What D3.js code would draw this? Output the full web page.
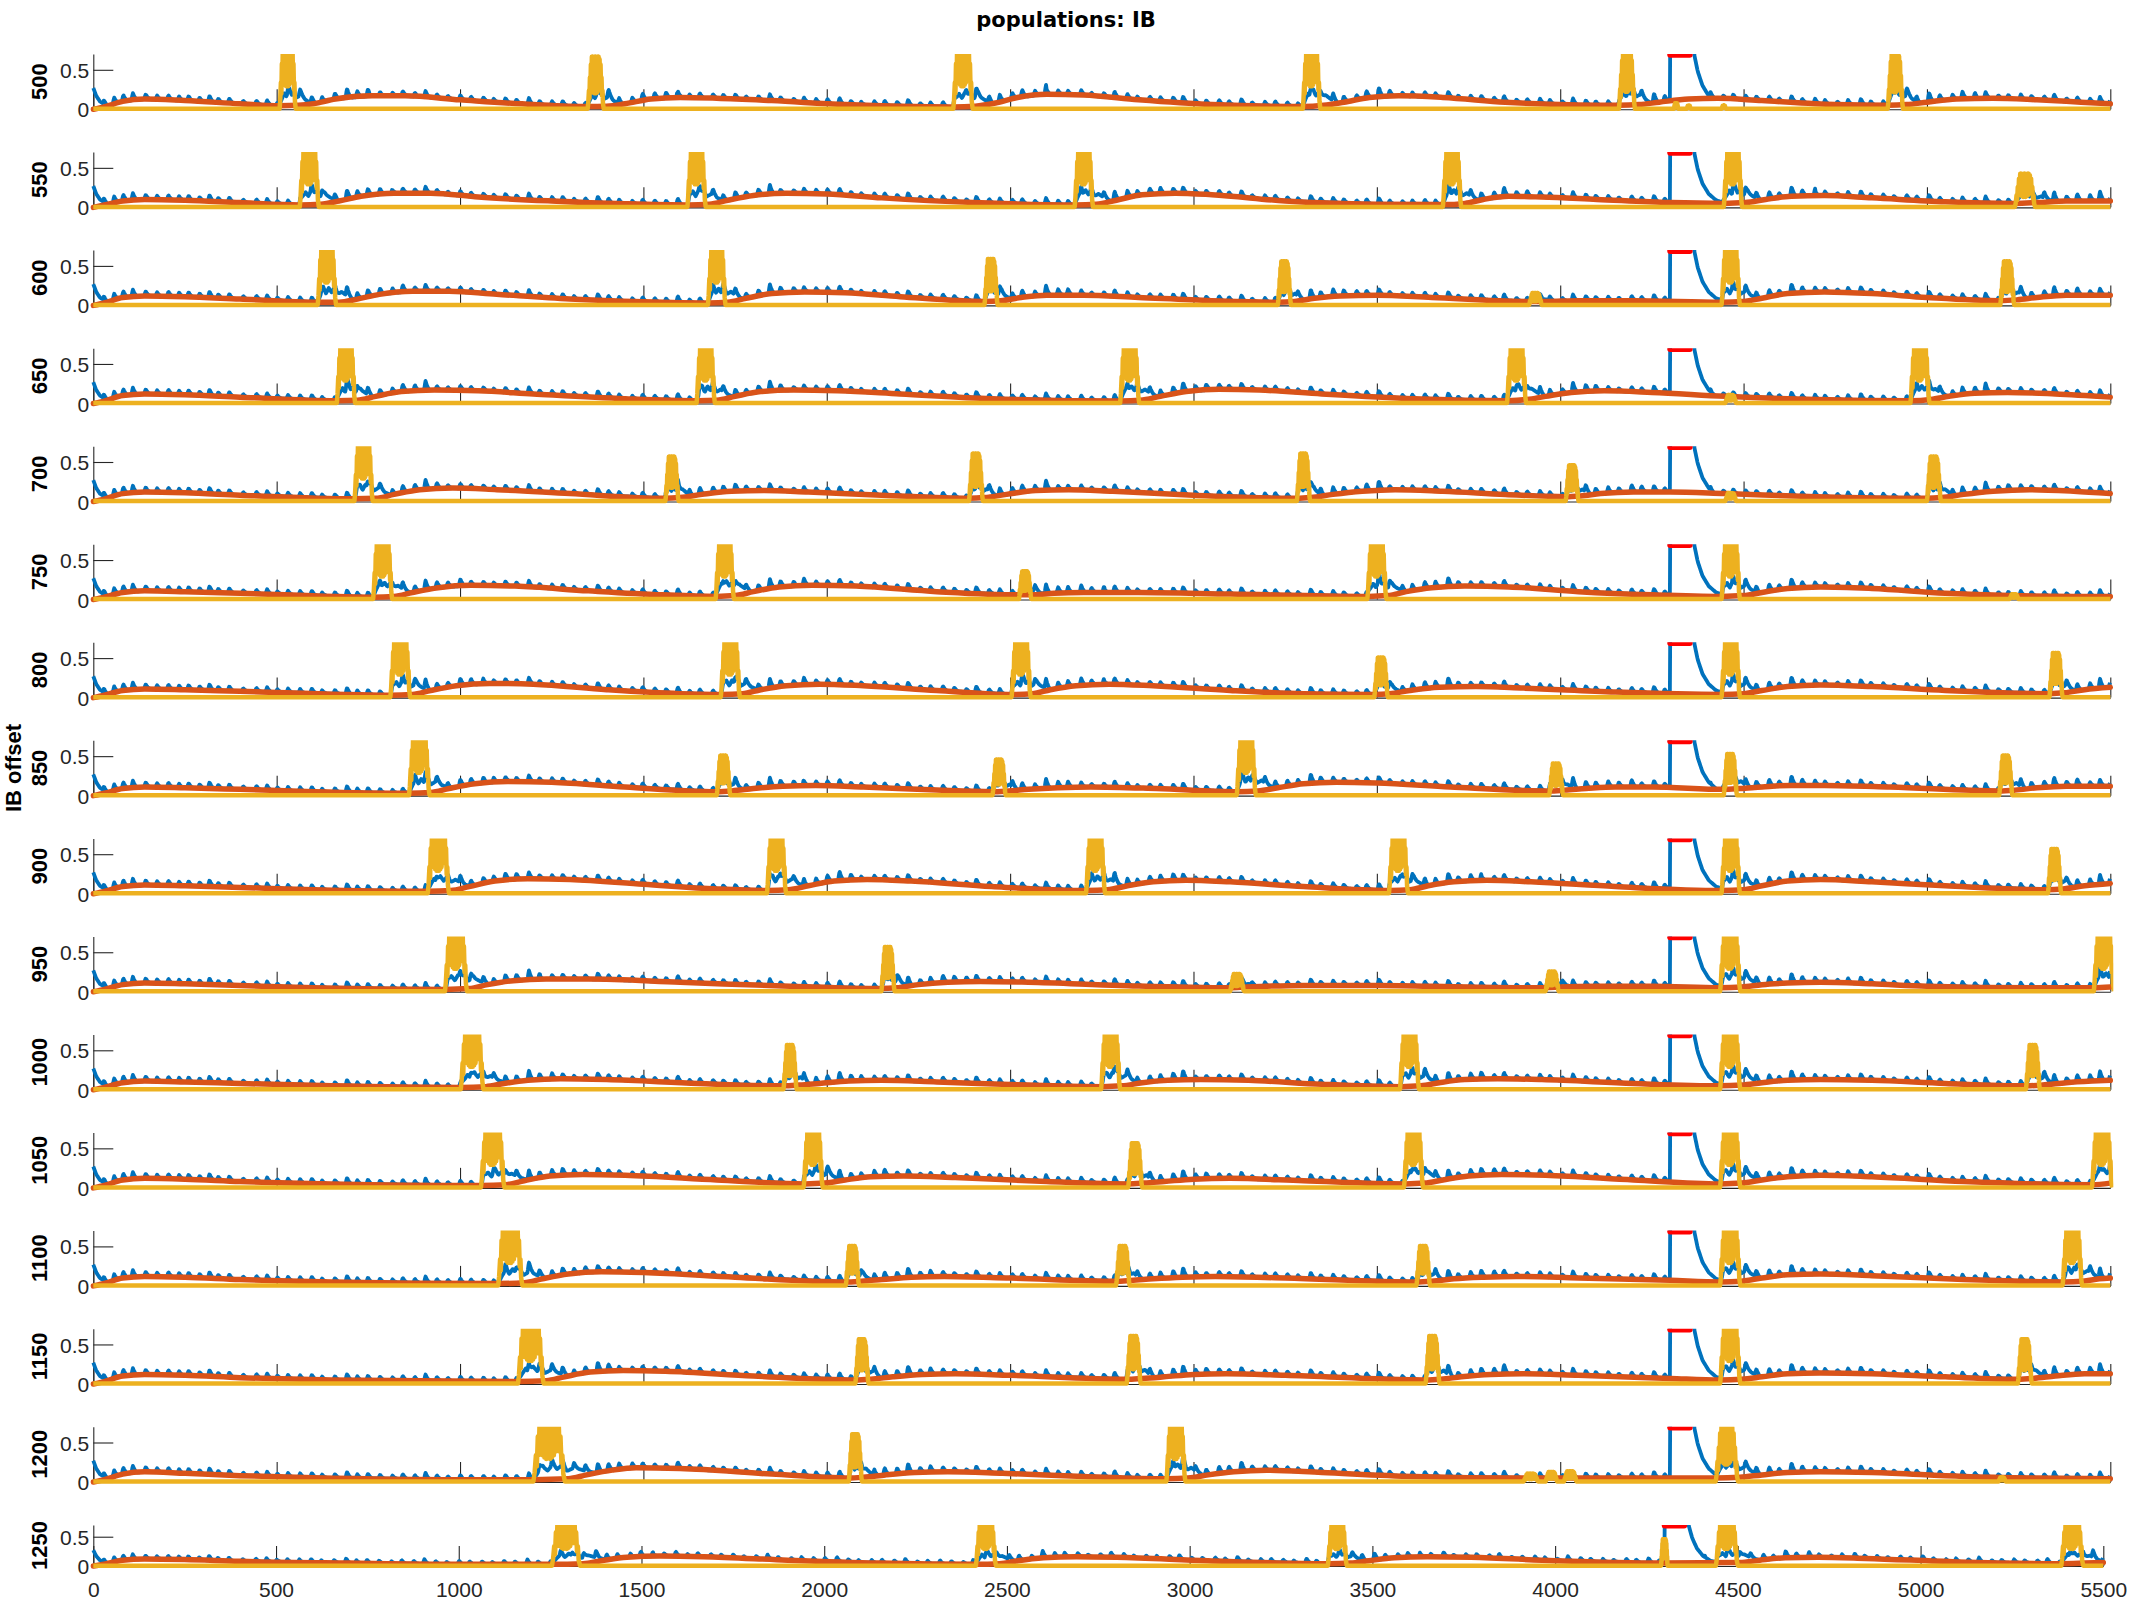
<!DOCTYPE html>
<html><head><meta charset="utf-8">
<script src="https://cdn.jsdelivr.net/npm/d3@7"></script>
<style>body{margin:0;background:#fff}svg{display:block}</style>
</head><body>
<svg id="chart" width="2133" height="1600"></svg>
<script>
// ---------------- DATA ----------------
const titleText = "populations: IB";
const yLabelText = "IB offset";
const offsets = [500,550,600,650,700,750,800,850,900,950,1000,1050,1100,1150,1200,1250];
const timeTicks = [0,500,1000,1500,2000,2500,3000,3500,4000,4500,5000,5500];
const yTickValues = [0, 0.5];
const yTickLabels = ["0", "0.5"];
const yMax = 0.7;
const tMax = 5500;

// yellow bursts per panel: [start, end, peak]
const yellowBursts = [
 [[508,552,.95],[1348,1392,.66],[2345,2398,.95],[3298,3346,.95],[4160,4204,.72],[4310,4322,.07],[4345,4356,.04],[4440,4452,.04],[4893,4935,.7]],
 [[563,615,.95],[1620,1670,.95],[2676,2726,.95],[3680,3730,.95],[4446,4496,.95],[5240,5295,.42]],
 [[612,662,.95],[1676,1724,.95],[2430,2466,.58],[3230,3266,.55],[3915,3950,.15],[4440,4490,.95],[5200,5238,.55]],
 [[664,714,.95],[1645,1695,.95],[2800,2852,.95],[3855,3907,.95],[4450,4480,.1],[4955,5007,.95]],
 [[712,762,.95],[1560,1596,.56],[2388,2426,.6],[3282,3318,.6],[4015,4050,.45],[4450,4480,.1],[5000,5038,.56]],
 [[763,815,.95],[1697,1747,.95],[2524,2558,.35],[3474,3526,.95],[4440,4490,.95],[5225,5250,.06]],
 [[810,864,.95],[1711,1763,.95],[2504,2556,.95],[3493,3530,.5],[4440,4490,.95],[5334,5370,.56]],
 [[861,917,.95],[1700,1737,.5],[2452,2488,.45],[3118,3170,.95],[3970,4008,.4],[4446,4482,.52],[5197,5233,.5]],
 [[912,970,.95],[1837,1889,.95],[2707,2759,.95],[3533,3585,.95],[4440,4490,.95],[5330,5366,.56]],
 [[959,1019,.95],[2149,2185,.56],[3100,3138,.22],[3960,3996,.25],[4436,4491,.95],[5455,5510,.95]],
 [[1002,1064,.95],[1882,1918,.56],[2748,2800,.95],[3563,3615,.95],[4436,4491,.95],[5270,5308,.56]],
 [[1057,1121,.95],[1937,1989,.95],[2822,2860,.56],[3574,3626,.95],[4436,4491,.95],[5450,5505,.95]],
 [[1104,1170,.95],[2052,2088,.5],[2789,2826,.5],[3608,3645,.5],[4436,4491,.95],[5370,5423,.95]],
 [[1158,1228,.95],[2078,2114,.56],[2818,2856,.6],[3633,3671,.6],[4436,4491,.95],[5248,5286,.56]],
 [[1200,1286,.95],[2060,2096,.6],[2926,2978,.95],[3900,3940,.1],[3960,3992,.12],[4010,4045,.13],[4424,4485,.72],[5195,5215,.05]],
 [[1255,1332,.95],[2415,2470,.95],[3378,3430,.95],[4290,4308,.45],[4440,4500,.95],[5385,5445,.95]]
];

// orange (slow population) key points per panel: [time, value]
const orangePts = [
 [[0,0],[30,.03],[80,.1],[140,.13],[250,.11],[400,.07],[508,.045],[560,.05],[600,.07],[660,.13],[760,.17],[850,.17],[1000,.12],[1200,.06],[1348,.035],[1400,.04],[1450,.07],[1520,.13],[1600,.15],[1700,.14],[1850,.11],[2050,.06],[2345,.03],[2405,.04],[2460,.08],[2520,.15],[2600,.19],[2700,.18],[2850,.12],[3050,.06],[3298,.035],[3355,.05],[3410,.09],[3480,.15],[3560,.17],[3680,.15],[3850,.09],[4050,.055],[4160,.05],[4215,.06],[4270,.09],[4350,.13],[4430,.14],[4550,.11],[4750,.06],[4893,.05],[4945,.06],[5000,.09],[5080,.13],[5180,.14],[5300,.12],[5420,.09],[5500,.07]],
 [[0,0],[30,.03],[80,.08],[140,.1],[250,.09],[400,.06],[563,.03],[620,.04],[670,.08],[730,.14],[820,.18],[920,.18],[1050,.13],[1250,.08],[1450,.045],[1622,.03],[1680,.04],[1730,.09],[1800,.15],[1890,.18],[2000,.17],[2150,.12],[2400,.06],[2678,.03],[2735,.04],[2790,.09],[2860,.16],[2950,.18],[3050,.16],[3250,.08],[3500,.04],[3682,.035],[3740,.05],[3790,.1],[3860,.14],[3950,.13],[4100,.1],[4300,.06],[4446,.05],[4505,.06],[4560,.1],[4630,.14],[4720,.15],[4850,.12],[5050,.07],[5240,.05],[5300,.06],[5380,.08],[5500,.08]],
 [[0,0],[30,.03],[80,.1],[140,.12],[250,.11],[400,.08],[612,.04],[670,.04],[720,.08],[780,.14],[870,.18],[970,.18],[1100,.14],[1300,.08],[1500,.045],[1678,.03],[1730,.04],[1780,.09],[1850,.15],[1940,.17],[2050,.16],[2200,.11],[2430,.05],[2475,.06],[2530,.1],[2600,.13],[2700,.13],[2850,.1],[3050,.06],[3230,.04],[3275,.05],[3330,.09],[3400,.12],[3500,.13],[3650,.1],[3915,.05],[3960,.05],[4050,.06],[4200,.06],[4440,.04],[4500,.05],[4550,.09],[4620,.15],[4720,.17],[4850,.15],[5000,.1],[5200,.06],[5245,.07],[5300,.1],[5380,.13],[5500,.13]],
 [[0,0],[30,.03],[80,.1],[140,.12],[250,.11],[400,.08],[664,.035],[720,.04],[770,.09],[840,.15],[930,.17],[1050,.16],[1200,.12],[1450,.06],[1648,.035],[1700,.04],[1750,.09],[1820,.15],[1910,.17],[2030,.16],[2200,.12],[2450,.06],[2803,.03],[2855,.04],[2910,.09],[2980,.15],[3070,.18],[3180,.17],[3350,.12],[3600,.06],[3858,.035],[3910,.05],[3960,.09],[4030,.14],[4120,.16],[4250,.14],[4450,.09],[4700,.05],[4958,.035],[5010,.05],[5060,.09],[5130,.13],[5220,.14],[5350,.12],[5500,.08]],
 [[0,0],[30,.03],[80,.1],[140,.12],[250,.11],[400,.08],[712,.035],[770,.04],[820,.09],[890,.15],[980,.17],[1100,.15],[1300,.1],[1560,.04],[1600,.05],[1660,.09],[1740,.13],[1830,.14],[1950,.12],[2150,.08],[2388,.04],[2430,.05],[2490,.09],[2570,.14],[2660,.15],[2780,.13],[3000,.08],[3282,.04],[3320,.05],[3380,.09],[3460,.13],[3550,.15],[3680,.13],[3850,.09],[4015,.06],[4055,.07],[4110,.1],[4200,.12],[4300,.12],[4450,.1],[4700,.06],[5000,.04],[5040,.05],[5100,.09],[5180,.13],[5280,.15],[5400,.13],[5500,.1]],
 [[0,0],[30,.03],[80,.09],[140,.11],[250,.1],[400,.08],[763,.03],[820,.04],[870,.09],[940,.15],[1030,.18],[1150,.17],[1350,.11],[1550,.06],[1700,.04],[1750,.05],[1800,.1],[1870,.16],[1960,.18],[2080,.17],[2300,.1],[2524,.06],[2565,.06],[2620,.08],[2700,.09],[2850,.09],[3100,.07],[3477,.04],[3530,.05],[3580,.1],[3650,.15],[3740,.17],[3860,.16],[4050,.1],[4250,.06],[4440,.04],[4500,.05],[4550,.09],[4620,.14],[4710,.16],[4850,.14],[5050,.08],[5225,.05],[5400,.04],[5500,.04]],
 [[0,0],[30,.03],[80,.09],[140,.11],[250,.1],[400,.08],[810,.03],[870,.04],[920,.09],[990,.15],[1080,.18],[1200,.17],[1400,.1],[1600,.05],[1714,.04],[1770,.05],[1820,.1],[1890,.15],[1980,.17],[2100,.15],[2300,.09],[2507,.04],[2560,.05],[2610,.1],[2680,.15],[2770,.17],[2890,.15],[3100,.09],[3300,.05],[3493,.04],[3535,.05],[3590,.09],[3670,.13],[3770,.14],[3900,.12],[4150,.07],[4440,.04],[4500,.05],[4550,.09],[4620,.14],[4710,.16],[4850,.14],[5050,.09],[5334,.05],[5375,.06],[5430,.1],[5500,.13]],
 [[0,0],[30,.03],[80,.09],[140,.11],[250,.1],[400,.08],[600,.05],[861,.03],[920,.04],[970,.09],[1040,.15],[1130,.18],[1250,.17],[1450,.11],[1700,.05],[1742,.06],[1800,.09],[1880,.12],[1970,.13],[2100,.11],[2300,.07],[2452,.05],[2495,.06],[2550,.08],[2630,.1],[2720,.11],[2900,.09],[3121,.05],[3175,.06],[3230,.1],[3300,.15],[3390,.17],[3500,.16],[3700,.11],[3970,.06],[4012,.07],[4070,.09],[4150,.11],[4250,.11],[4446,.08],[4490,.09],[4550,.11],[4630,.13],[4720,.13],[4900,.11],[5197,.06],[5240,.07],[5300,.1],[5380,.12],[5500,.12]],
 [[0,0],[30,.03],[80,.09],[140,.11],[250,.1],[400,.08],[600,.05],[912,.03],[975,.04],[1025,.09],[1095,.16],[1185,.19],[1300,.18],[1500,.12],[1700,.06],[1840,.04],[1895,.05],[1950,.1],[2020,.16],[2110,.18],[2230,.16],[2450,.09],[2710,.04],[2765,.05],[2820,.1],[2890,.15],[2980,.17],[3100,.15],[3300,.09],[3536,.04],[3590,.05],[3640,.1],[3710,.15],[3800,.17],[3920,.15],[4150,.09],[4440,.04],[4500,.05],[4550,.1],[4620,.16],[4710,.18],[4850,.15],[5050,.1],[5330,.05],[5370,.06],[5430,.1],[5500,.13]],
 [[0,0],[30,.03],[80,.09],[140,.11],[250,.1],[400,.08],[600,.05],[959,.03],[1025,.04],[1075,.09],[1145,.14],[1235,.16],[1350,.16],[1600,.12],[1900,.07],[2149,.04],[2190,.05],[2250,.09],[2330,.12],[2420,.13],[2550,.12],[2800,.08],[3100,.05],[3145,.06],[3200,.07],[3300,.08],[3500,.08],[3750,.06],[3960,.05],[4000,.06],[4100,.07],[4250,.07],[4436,.05],[4495,.06],[4550,.09],[4620,.11],[4710,.12],[4850,.1],[5000,.07],[5300,.05],[5455,.05],[5500,.06]],
 [[0,0],[30,.03],[80,.09],[140,.11],[250,.1],[400,.08],[650,.05],[1002,.03],[1070,.04],[1120,.08],[1185,.12],[1275,.14],[1400,.13],[1650,.08],[1882,.05],[1925,.06],[1980,.08],[2060,.11],[2150,.12],[2300,.1],[2550,.06],[2751,.04],[2805,.05],[2860,.09],[2930,.12],[3020,.13],[3150,.12],[3350,.07],[3566,.04],[3620,.05],[3670,.09],[3740,.13],[3830,.14],[3950,.13],[4200,.08],[4436,.05],[4495,.06],[4550,.09],[4620,.12],[4710,.13],[4850,.12],[5050,.08],[5270,.05],[5315,.06],[5380,.09],[5450,.11],[5500,.12]],
 [[0,0],[30,.03],[80,.1],[140,.12],[250,.11],[400,.08],[650,.05],[1057,.03],[1125,.04],[1175,.09],[1245,.15],[1335,.17],[1450,.16],[1700,.1],[1940,.05],[1995,.06],[2050,.1],[2120,.14],[2210,.15],[2350,.13],[2600,.08],[2822,.05],[2865,.06],[2920,.08],[3000,.11],[3100,.12],[3300,.09],[3577,.05],[3630,.06],[3680,.1],[3750,.15],[3840,.17],[3960,.16],[4200,.1],[4436,.05],[4495,.06],[4550,.1],[4620,.14],[4710,.16],[4850,.14],[5100,.08],[5450,.04],[5500,.06]],
 [[0,0],[30,.03],[80,.1],[140,.12],[250,.11],[400,.08],[650,.05],[1104,.03],[1175,.04],[1225,.09],[1295,.15],[1385,.18],[1500,.17],[1750,.11],[2052,.05],[2095,.06],[2150,.08],[2230,.11],[2320,.12],[2500,.1],[2789,.06],[2830,.07],[2890,.09],[2970,.11],[3060,.12],[3250,.1],[3608,.05],[3650,.06],[3710,.09],[3790,.11],[3880,.12],[4050,.1],[4300,.07],[4436,.05],[4495,.06],[4550,.1],[4620,.14],[4710,.15],[4850,.13],[5100,.08],[5373,.05],[5425,.06],[5470,.09],[5500,.1]],
 [[0,0],[30,.03],[80,.1],[140,.12],[250,.11],[400,.08],[650,.05],[1158,.03],[1235,.04],[1285,.09],[1355,.15],[1445,.17],[1560,.16],[1800,.1],[2078,.05],[2120,.06],[2180,.09],[2260,.12],[2350,.13],[2500,.11],[2818,.06],[2860,.07],[2920,.09],[3000,.12],[3090,.13],[3250,.11],[3633,.05],[3675,.06],[3730,.09],[3810,.12],[3900,.13],[4050,.11],[4300,.07],[4436,.05],[4495,.06],[4550,.09],[4620,.13],[4710,.14],[4850,.13],[5050,.09],[5248,.06],[5290,.07],[5350,.1],[5430,.13],[5500,.13]],
 [[0,0],[30,.03],[80,.1],[140,.13],[250,.11],[400,.08],[600,.055],[1000,.03],[1200,.03],[1295,.04],[1345,.09],[1415,.15],[1480,.18],[1600,.17],[1850,.1],[2060,.05],[2100,.06],[2160,.09],[2240,.12],[2330,.13],[2480,.11],[2700,.07],[2929,.04],[2985,.05],[3040,.09],[3110,.13],[3200,.15],[3350,.12],[3600,.07],[3900,.05],[4100,.05],[4300,.05],[4424,.05],[4490,.06],[4550,.09],[4620,.12],[4710,.13],[4850,.12],[5100,.07],[5300,.05],[5500,.04]],
 [[0,0],[30,.03],[80,.1],[140,.12],[250,.11],[400,.08],[700,.05],[1000,.03],[1255,.03],[1340,.04],[1390,.09],[1460,.15],[1550,.17],[1670,.16],[1900,.1],[2150,.05],[2415,.03],[2480,.04],[2530,.09],[2600,.14],[2690,.16],[2800,.15],[3050,.09],[3378,.04],[3440,.05],[3490,.09],[3560,.14],[3650,.16],[3770,.15],[4000,.09],[4292,.05],[4505,.06],[4560,.1],[4630,.14],[4720,.15],[4850,.13],[5100,.07],[5385,.04],[5450,.05],[5500,.06]]
];

// blue ripple events shared by all panels (times) and their heights (hundredths)
const rippleTimes = [
 25,53,78,104,139,170,201,230,256,286,313,337,367,405,441,470,498,527,560,592,
 620,655,688,716,745,778,812,840,873,902,933,963,997,1026,1060,1088,1120,1150,1184,1213,
 1247,1276,1307,1338,1372,1401,1430,1466,1494,1527,1558,1590,1622,1650,1686,1714,1747,1776,1810,1841,
 1870,1906,1934,1967,1998,2031,2062,2090,2126,2154,2188,2218,2251,2279,2313,2344,2377,2404,2439,2468,
 2502,2529,2564,2594,2627,2654,2690,2718,2752,2781,2816,2843,2877,2906,2941,2968,3002,3031,3066,3093,
 3127,3156,3191,3219,3252,3281,3316,3343,3377,3406,3441,3468,3502,3531,3566,3593,3627,3656,3691,3718,
 3752,3781,3816,3843,3877,3906,3941,3968,4002,4031,4066,4093,4127,4156,4191,4218,4252,4281,4316,4343,
 4377,4406,4441,4468,4502,4531,4566,4593,4627,4656,4691,4718,4752,4781,4816,4843,4877,4906,4941,4968,
 5002,5031,5066,5093,5127,5156,5191,5218,5252,5281,5316,5343,5377,5406,5441,5468,5496];
const rippleHeights = [
 9,8,8,9,6,5,6,5,6,5,8,5,6,4,5,6,4,5,5,6,
 4,5,8,5,6,5,4,6,5,8,5,4,6,5,5,4,6,5,8,5,
 5,6,4,5,8,6,5,4,6,5,5,8,4,6,5,5,6,4,5,8,
 5,4,6,5,6,8,5,4,5,6,5,8,4,5,6,5,4,8,5,6,
 5,6,4,8,5,5,6,4,5,8,6,4,5,5,6,8,4,5,6,5,
 8,4,5,6,5,4,8,5,6,5,4,6,8,5,4,5,6,5,8,4,
 5,6,5,8,4,5,6,5,4,8,6,5,5,4,6,5,8,5,6,4,
 5,8,4,6,5,5,6,4,8,5,6,5,4,6,8,5,5,4,6,5,
 8,5,4,6,5,8,4,5,6,5,5,8,4,6,5,8,5];
// shape of one ripple bump: [time after event, fraction of height]
const bumpShape = [[0,0],[2,0.6],[4,1],[7,0.6],[11,0.25],[15,0.05],[18,0]];
// shape of a yellow burst: [fraction of duration, fraction of peak]
const yellowShape = [[0,0],[0.04,0.12],[0.08,0.35],[0.11,0.2],[0.14,0.6],[0.17,0.35],[0.2,0.85],[0.23,0.4],[0.26,1],[0.29,0.35],[0.32,1],[0.35,0.32],[0.38,0.95],[0.41,0.3],[0.44,1],[0.47,0.33],[0.5,1],[0.53,0.3],[0.56,0.95],[0.59,0.32],[0.62,1],[0.65,0.35],[0.68,1],[0.71,0.4],[0.74,0.95],[0.77,0.45],[0.8,0.85],[0.83,0.4],[0.86,0.6],[0.89,0.25],[0.92,0.35],[0.95,0.1],[1,0]];
// blue response during a burst: [fraction of duration, fraction of amplitude]
const burstBlueShape = [[0,0],[0.15,0.5],[0.3,0.9],[0.45,0.6],[0.6,1],[0.75,0.7],[0.9,0.95],[1.05,0.55],[1.3,0.7],[1.6,0.35],[2.0,0]];
const burstBlueAmp = 0.18;
const yellowBase = 0.006;
// initial blue transient and stimulation pulse response
const blueStart = [[0,0.27],[8,0.17],[18,0.1],[28,0.07]];
const pulseBlue = [[4300,0.05],[4300.5,1.2],[4362,1.2],[4366,0.68],[4375,0.48],[4388,0.3],[4405,0.17],[4425,0.09],[4445,0.06]];
const stimBar = {start: 4300, end: 4353, level: 0.69};

// ---------------- LAYOUT / STYLE ----------------
const colors = {blue: "#0072BD", orange: "#D95319", yellow: "#EDB120", red: "#FF0000", axis: "#262626"};
const left = 93.3;
const tickFont = "'Liberation Sans', Arial, sans-serif";

function interp(pts, t) {
  if (t <= pts[0][0]) return pts[0][1];
  for (let i = 1; i < pts.length; i++) {
    if (t <= pts[i][0]) {
      const [t0, y0] = pts[i - 1], [t1, y1] = pts[i];
      return y0 + (y1 - y0) * (t - t0) / (t1 - t0);
    }
  }
  return pts[pts.length - 1][1];
}

function yellowSeries(bursts) {
  const pts = [[0, yellowBase]];
  bursts.forEach(([s, e, pk]) => {
    const d = e - s;
    yellowShape.forEach(([f, g]) => pts.push([s + f * d, yellowBase + pk * g]));
  });
  if (pts[pts.length - 1][0] < tMax) pts.push([tMax, yellowBase]);
  return pts;
}

function blueSeries(orange, bursts) {
  const times = [];
  for (let t = 0; t <= tMax; t += 1.5) times.push(t);
  [4300.5, 4362, 4366].forEach(t => times.push(t));
  times.sort((a, b) => a - b);
  return times.map(t => {
    let v = interp(orange, t);
    let mult = 1;
    bursts.forEach(([s, e, pk]) => {
      if (pk >= 0.3 && t >= s && t <= e + 200) mult = 1.5;
      if (pk >= 0.15) {
        const d = e - s, f = (t - s) / d;
        if (f >= 0 && f <= 2) v += burstBlueAmp * Math.min(pk, yMax) / yMax * interp(burstBlueShape, f);
      }
    });
    rippleTimes.forEach((tk, k) => {
      const dt = t - tk;
      if (dt >= 0 && dt <= 18) v += rippleHeights[k] / 100 * interp(bumpShape, dt) * mult;
    });
    if (t < 28) v = Math.max(v, interp(blueStart, t));
    if (t >= 4300 && t <= 4445) v = Math.max(v, interp(pulseBlue, t));
    return [t, v];
  });
}

// ---------------- DRAW ----------------
const svg = d3.select("#chart");
const defs = svg.append("defs");

svg.append("text")
  .attr("x", 1066).attr("y", 27)
  .attr("text-anchor", "middle")
  .attr("font-family", "'DejaVu Sans', sans-serif")
  .attr("font-weight", "bold").attr("font-size", 21)
  .attr("fill", "#000")
  .text(titleText);

svg.append("text")
  .attr("transform", "translate(13,768) rotate(-90)")
  .attr("text-anchor", "middle").attr("dominant-baseline", "central")
  .attr("font-family", tickFont).attr("font-weight", "bold").attr("font-size", 22)
  .attr("fill", "#000")
  .text(yLabelText);

offsets.forEach((off, p) => {
  const last = p === offsets.length - 1;
  const top = last ? 1525 : 54 + p * 98.05;
  const h = last ? 41 : 55.3;
  const right = last ? 2103.3 : 2110.3;
  const x = d3.scaleLinear().domain([0, tMax]).range([left, right]);
  const y = d3.scaleLinear().domain([0, yMax]).range([top + h, top]);
  const g = svg.append("g");

  // axes (beneath data)
  const xAxis = d3.axisBottom(x).tickValues(timeTicks).tickSize(-20).tickSizeOuter(0).tickPadding(16)
    .tickFormat(last ? d3.format("d") : () => "");
  const gx = g.append("g").attr("transform", `translate(0,${top + h})`).call(xAxis);
  const yAxis = d3.axisLeft(y).tickValues(yTickValues).tickSize(-20).tickSizeOuter(0).tickPadding(4)
    .tickFormat((d, i) => yTickLabels[i]);
  const gy = g.append("g").attr("transform", `translate(${left},0)`).call(yAxis);
  [gx, gy].forEach(a => {
    a.selectAll("path,line").attr("stroke", colors.axis).attr("stroke-width", 1.1);
    a.selectAll("text").attr("fill", colors.axis).attr("font-size", 21).attr("font-family", tickFont);
  });
  gy.selectAll("text").attr("dy", "0.36em");

  // row label
  g.append("text")
    .attr("transform", `translate(39,${top + h / 2}) rotate(-90)`)
    .attr("text-anchor", "middle").attr("dominant-baseline", "central")
    .attr("font-family", tickFont).attr("font-weight", "bold").attr("font-size", 22)
    .attr("fill", "#000")
    .text(off);

  // clip
  const cid = "clip" + p;
  defs.append("clipPath").attr("id", cid).append("rect")
    .attr("x", left - 3).attr("y", top).attr("width", right - left + 6).attr("height", h + 4);
  const gd = g.append("g").attr("clip-path", `url(#${cid})`);

  const line = d3.line().x(d => x(d[0])).y(d => y(d[1]));
  const smooth = d3.line().x(d => x(d[0])).y(d => y(d[1])).curve(d3.curveMonotoneX);

  gd.append("path").datum(blueSeries(orangePts[p], yellowBursts[p]))
    .attr("d", line).attr("fill", "none").attr("stroke", colors.blue)
    .attr("stroke-width", 3.8).attr("stroke-linejoin", "round");
  gd.append("path").datum(orangePts[p])
    .attr("d", smooth).attr("fill", "none").attr("stroke", colors.orange)
    .attr("stroke-width", 5.5).attr("stroke-linecap", "round");
  gd.append("path").datum(yellowSeries(yellowBursts[p]))
    .attr("d", line).attr("fill", "none").attr("stroke", colors.yellow)
    .attr("stroke-width", 4.5).attr("stroke-linejoin", "round");
  gd.append("line")
    .attr("x1", x(stimBar.start)).attr("x2", x(stimBar.end))
    .attr("y1", y(stimBar.level)).attr("y2", y(stimBar.level))
    .attr("stroke", colors.red).attr("stroke-width", 6).attr("stroke-linecap", "round");
});
</script>
</body></html>
